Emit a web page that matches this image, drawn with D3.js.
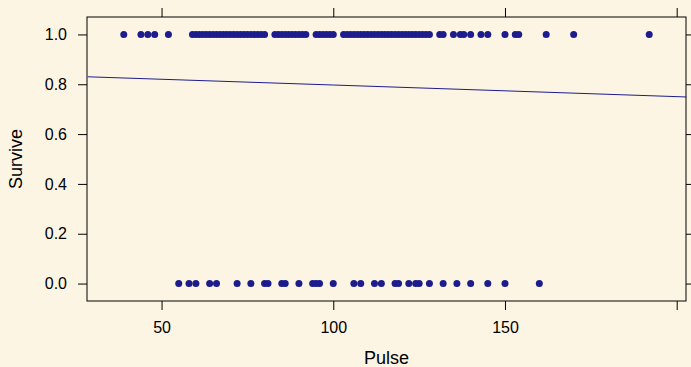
<!DOCTYPE html>
<html>
<head>
<meta charset="utf-8">
<script src="https://cdn.jsdelivr.net/npm/d3@7"></script>
<style>
  body { margin: 0; background: #fdf5e4; }
  svg { display: block; font-family: "Liberation Sans", Arial, sans-serif; }
</style>
</head>
<body>
<div id="chart"></div>
<script>
// pulse values of patients who survived (Survive = 1)
const pulseSurvived = [
  39, 44, 46, 48, 52,
  59, 60, 61, 62, 63, 64, 65, 66, 67, 68, 69, 70, 71, 72, 73, 74, 75, 76, 77, 78, 79, 80,
  83, 84, 85, 86, 87, 88, 89, 90, 91, 92,
  95, 96, 97, 98, 99, 100,
  103, 104, 105, 106, 107, 108, 109, 110, 111, 112, 113, 114, 115, 116, 117, 118,
  119, 120, 121, 122, 123, 124, 125, 126, 127, 128,
  131, 132, 135, 137, 138, 140, 143, 145, 150, 153, 154, 162, 170, 192
];
// pulse values of patients who died (Survive = 0)
const pulseDied = [
  55, 58, 60, 64, 66, 72, 76, 80, 81, 85, 86, 90, 94, 95, 96, 100,
  106, 108, 112, 114, 118, 119, 122, 124, 125, 128, 132, 136, 140, 145, 150, 160
];
// fitted logistic curve
const fitPulse = [28.5, 100, 202.8];
const fitProb = [0.830, 0.797, 0.749];

const xTicks = [50, 100, 150, 200];
const xTickLabels = ['50', '100', '150', ''];
const yTicks = [0, 0.2, 0.4, 0.6, 0.8, 1.0];

const width = 691, height = 367;
const margin = { top: 17, right: 5, bottom: 66, left: 87 };
const innerW = width - margin.left - margin.right;
const innerH = height - margin.top - margin.bottom;
const dotColor = '#1c1c8c';
const tickLen = 9;

const svg = d3.select('#chart')
  .append('svg')
  .attr('width', width)
  .attr('height', height);

svg.append('rect')
  .attr('width', width)
  .attr('height', height)
  .attr('fill', '#fdf5e4');

const g = svg.append('g')
  .attr('transform', `translate(${margin.left},${margin.top})`);

// lattice pads the data range by 7% on each side
const xMin = d3.min(pulseSurvived.concat(pulseDied));
const xMax = d3.max(pulseSurvived.concat(pulseDied));
const xPad = (xMax - xMin) * 0.07;

const x = d3.scaleLinear()
  .domain([xMin - xPad, xMax + xPad])
  .range([0, innerW]);

const y = d3.scaleLinear()
  .domain([-0.07, 1.07])
  .range([innerH, 0]);

// axes on all four sides, labels only bottom and left
const fmtY = d3.format('.1f');

g.append('g')
  .attr('class', 'xAxis')
  .attr('transform', `translate(0,${innerH})`)
  .call(d3.axisBottom(x).tickValues(xTicks).tickSize(tickLen).tickPadding(12)
    .tickFormat((d, i) => xTickLabels[i]));

g.append('g')
  .attr('class', 'xAxisTop')
  .call(d3.axisTop(x).tickValues(xTicks).tickSize(tickLen).tickFormat(''));

g.append('g')
  .attr('class', 'yAxis')
  .call(d3.axisLeft(y).tickValues(yTicks).tickSize(tickLen).tickPadding(11)
    .tickFormat(fmtY));

g.append('g')
  .attr('class', 'yAxisRight')
  .attr('transform', `translate(${innerW},0)`)
  .call(d3.axisRight(y).tickValues(yTicks).tickSize(tickLen).tickFormat(''));

g.selectAll('.domain').remove();
g.selectAll('.tick line').attr('stroke', '#000').attr('stroke-width', 1);
g.selectAll('.tick text')
  .attr('fill', '#000')
  .style('font-size', '16px')
  .style('font-family', '"Liberation Sans", Arial, sans-serif');

// panel border
g.append('rect')
  .attr('width', innerW)
  .attr('height', innerH)
  .attr('fill', 'none')
  .attr('stroke', '#000')
  .attr('stroke-width', 1);

// points
g.append('g')
  .selectAll('circle')
  .data(pulseSurvived.map(p => [p, 1]).concat(pulseDied.map(p => [p, 0])))
  .enter()
  .append('circle')
  .attr('cx', d => x(d[0]))
  .attr('cy', d => y(d[1]))
  .attr('r', 3.5)
  .attr('fill', dotColor);

// fitted curve
const line = d3.line()
  .x(d => x(d[0]))
  .y(d => y(d[1]));

g.append('path')
  .datum(fitPulse.map((p, i) => [p, fitProb[i]]))
  .attr('d', line)
  .attr('fill', 'none')
  .attr('stroke', dotColor)
  .attr('stroke-width', 1);

// axis titles
svg.append('text')
  .attr('x', margin.left + innerW / 2)
  .attr('y', 364)
  .attr('text-anchor', 'middle')
  .style('font-size', '18px')
  .text('Pulse');

svg.append('text')
  .attr('transform', `translate(22,${margin.top + innerH / 2}) rotate(-90)`)
  .attr('text-anchor', 'middle')
  .style('font-size', '18px')
  .text('Survive');
</script>
</body>
</html>
